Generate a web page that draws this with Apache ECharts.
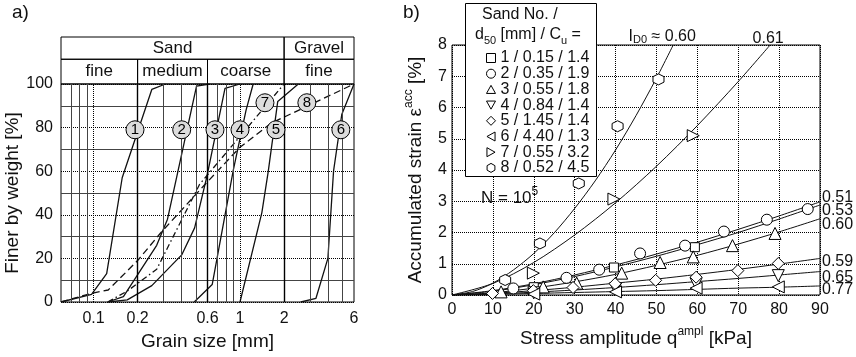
<!DOCTYPE html>
<html>
<head>
<meta charset="utf-8">
<script src="https://cdn.jsdelivr.net/npm/echarts@6/dist/echarts.min.js"></script>
<style>
  html, body { margin: 0; padding: 0; background: #fff; }
  #chart { width: 856px; height: 357px; }
</style>
</head>
<body>
<div id="chart"></div>
<script>
// ---------- a) grading curves: grain size [mm] vs. percent finer ----------
const grainTicks = [0.1, 0.2, 0.6, 1, 2, 6];
const grainGridThin = [0.07, 0.08, 0.09, 0.3, 0.4, 0.5, 0.7, 0.8, 0.9, 3, 4, 5];
const grainGridDotted = [0.1, 1];
const grainGridBold = [0.2, 0.6, 2];
const soilClassMain = [['Sand', 0.06, 2], ['Gravel', 2, 6]];
const soilClassSub = [['fine', 0.06, 0.2], ['medium', 0.2, 0.6], ['coarse', 0.6, 2], ['fine', 2, 6]];

const grading1 = [[0.06, 0], [0.097, 3.5], [0.123, 13], [0.157, 57], [0.25, 97.5], [0.31, 100]];
const grading2 = [[0.125, 0], [0.16, 2.5], [0.27, 26], [0.32, 38], [0.505, 99], [0.62, 100]];
const grading3 = [[0.126, 0], [0.17, 1], [0.25, 7.5], [0.40, 21.6], [0.49, 34], [0.594, 57.5], [0.79, 98], [1.0, 100]];
const grading4 = [[0.487, 0], [0.646, 8], [0.9, 60.5], [1.1, 88], [1.23, 100]];
const grading5 = [[1.0, 0], [1.41, 41], [1.56, 60], [1.81, 92], [2.5, 100]];
const grading6 = [[2.6, 0], [3.3, 1.7], [3.98, 20], [4.35, 60], [4.95, 86], [6, 100]];
const grading7 = [[0.125, 0], [0.17, 5], [0.27, 15], [0.53, 54], [2, 100]];
const grading8 = [[0.06, 0], [0.097, 4], [0.126, 5.5], [0.2, 19], [0.29, 32], [0.56, 53], [1.0, 71], [1.63, 82], [6, 100]];
const gradingCurves = [grading1, grading2, grading3, grading4, grading5, grading6, grading7, grading8];

// circled sand numbers sitting on the curves: [d, percent, tag]
const curveTags = [[0.192, 79, '1'], [0.40, 79, '2'], [0.675, 79, '3'], [1.0, 79, '4'],
                   [1.76, 79, '5'], [4.88, 79, '6'], [1.48, 91.4, '7'], [2.86, 91.4, '8']];

// ---------- b) accumulated strain after N = 10^5 cycles ----------
const sandLabels = ['1 / 0.15 / 1.4', '2 / 0.35 / 1.9', '3 / 0.55 / 1.8', '4 / 0.84 / 1.4',
                    '5 / 1.45 / 1.4', '6 / 4.40 / 1.3', '7 / 0.55 / 3.2', '8 / 0.52 / 4.5'];
const initialDensity = ['0.53', '0.51', '0.60', '0.65', '0.59', '0.77', '0.61', '0.60'];

const strain1 = [[20, 0.25], [39.6, 0.88], [59.4, 1.53]];
const strain2 = [[15, 0.21], [28, 0.55], [36, 0.81], [46, 1.33], [57, 1.58], [66.5, 2.03], [77, 2.41], [87, 2.75]];
const strain3 = [[12, 0.1], [22.3, 0.26], [30.5, 0.38], [41.5, 0.70], [50.9, 1.04], [59, 1.22], [68.6, 1.58], [79, 1.97]];
const strain4 = [[20, 0.07], [40, 0.2], [59.7, 0.36], [79.8, 0.62]];
const strain5 = [[9.9, 0.05], [19.9, 0.14], [29.6, 0.24], [39.9, 0.36], [49.8, 0.47], [59.7, 0.57], [69.9, 0.78], [79.8, 1.01]];
const strain6 = [[20, 0.03], [40, 0.1], [59.7, 0.22], [79.8, 0.26]];
const strain7 = [[19.9, 0.7], [39.6, 3.07], [59, 5.1]];
const strain8 = [[13, 0.48], [21.5, 1.65], [31, 3.57], [40.5, 5.4], [50.5, 6.9]];
const strainPoints = [strain1, strain2, strain3, strain4, strain5, strain6, strain7, strain8];

const trend1 = [[0, 0], [10, 0.12], [20, 0.33], [30, 0.59], [40, 0.90], [50, 1.24], [60, 1.61], [70, 2.0], [80, 2.43], [90, 2.88]];
const trend2 = [[0, 0], [10, 0.14], [20, 0.36], [30, 0.64], [40, 0.96], [50, 1.31], [60, 1.69], [70, 2.10], [80, 2.53], [90, 2.98]];
const trend3 = [[0, 0], [10, 0.07], [20, 0.22], [30, 0.42], [40, 0.66], [50, 0.95], [60, 1.27], [70, 1.63], [80, 2.02], [90, 2.44]];
const trend4 = [[0, 0], [10, 0.035], [20, 0.09], [30, 0.16], [40, 0.24], [50, 0.33], [60, 0.43], [70, 0.53], [80, 0.64], [90, 0.75]];
const trend5 = [[0, 0], [10, 0.054], [20, 0.14], [30, 0.25], [40, 0.38], [50, 0.51], [60, 0.66], [70, 0.82], [80, 0.99], [90, 1.17]];
const trend6 = [[0, 0], [10, 0.02], [20, 0.05], [30, 0.08], [40, 0.11], [50, 0.14], [60, 0.18], [70, 0.22], [80, 0.25], [90, 0.29]];
const trend7 = [[0, 0], [10, 0.37], [20, 1.04], [30, 1.92], [40, 2.95], [50, 4.12], [60, 5.42], [70, 6.83], [77.8, 8]];
const trend8 = [[0, 0], [5, 0.11], [10, 0.38], [15, 0.80], [20, 1.33], [25, 1.99], [30, 2.77], [35, 3.65], [40, 4.64], [45, 5.74], [50, 6.94], [54.1, 8]];
const trends = [trend1, trend2, trend3, trend4, trend5, trend6, trend7, trend8];

// ---------- styling ----------
const FONT = "'Liberation Sans', Arial, Helvetica, sans-serif";
const INK = '#111';
const markerShapes = [
  'rect',
  'circle',
  'path://M0,-1 L1,0.8 L-1,0.8 Z',
  'path://M-1,-0.8 L1,-0.8 L0,1 Z',
  'diamond',
  'path://M0.8,-1 L0.8,1 L-1,0 Z',
  'path://M-0.8,-1 L-0.8,1 L1,0 Z',
  'path://M0,-1 L0.87,-0.5 L0.87,0.5 L0,1 L-0.87,0.5 L-0.87,-0.5 Z'
];
const markerSizes = [9, 11, 12, 12, 12, 12, 12, 11];
// label placement for the density values at the end of each trend line
const trendLabelStyle = [
  { position: 'right', offset: [0, 6] },
  { position: 'right', offset: [0, -4] },
  { position: 'right', offset: [0, 6] },
  { position: 'right', offset: [0, 6] },
  { position: 'right', offset: [0, 3] },
  { position: 'right', offset: [0, 4] },
  { position: 'top', offset: [-2, 4] },
  { position: 'top', offset: [-11, 2] }
];

const subRich = {
  sub: { fontSize: 11, fontFamily: FONT, verticalAlign: 'bottom', lineHeight: 11, color: INK },
  sup: { fontSize: 12, fontFamily: FONT, verticalAlign: 'top', lineHeight: 12, color: INK }
};

const chart = echarts.init(document.getElementById('chart'), null, { renderer: 'canvas' });

const series = [];

// vertical grid of the sieve chart
const gridMarks = []
  .concat(grainGridThin.map(v => ({ xAxis: v, lineStyle: { type: 'solid', color: '#444', width: 1 } })))
  .concat(grainGridDotted.map(v => ({ xAxis: v, lineStyle: { type: 'dotted', color: '#000', width: 1 } })))
  .concat(grainGridBold.map(v => ({ xAxis: v, lineStyle: { type: 'solid', color: '#000', width: 1.4 } })));
series.push({
  type: 'line', xAxisIndex: 0, yAxisIndex: 0, data: [], silent: true, z: 1,
  markLine: { silent: true, symbol: ['none', 'none'], label: { show: false }, animation: false, data: gridMarks }
});

// soil classification header
const headerCells = soilClassSub.map(c => [{ name: c[0], xAxis: c[1], yAxis: 0 }, { xAxis: c[2], yAxis: 1 }])
  .concat(soilClassMain.map(c => [{ name: c[0], xAxis: c[1], yAxis: 1 }, { xAxis: c[2], yAxis: 1.9 }]));
series.push({
  type: 'line', xAxisIndex: 1, yAxisIndex: 1, data: [], silent: true,
  markArea: {
    silent: true,
    itemStyle: { color: 'rgba(0,0,0,0)', borderColor: '#000', borderWidth: 1 },
    label: { show: true, position: 'inside', color: INK, fontSize: 17, fontFamily: FONT },
    data: headerCells
  }
});

// grading curves
gradingCurves.forEach((curve, i) => {
  let type = 'solid';
  if (i === 6) type = [6, 3, 1.5, 3];
  if (i === 7) type = [7, 4];
  series.push({
    type: 'line', xAxisIndex: 0, yAxisIndex: 0, data: curve, showSymbol: false, silent: true, z: 3,
    lineStyle: { color: INK, width: 1.3, type: type }
  });
});

// circled numbers
series.push({
  type: 'scatter', xAxisIndex: 0, yAxisIndex: 0, data: curveTags, symbol: 'circle', symbolSize: 18, z: 6, silent: true,
  itemStyle: { color: '#dcdcdc', borderColor: '#000', borderWidth: 1, opacity: 1 },
  label: { show: true, position: 'inside', formatter: p => p.value[2], color: '#000', fontSize: 15, fontFamily: FONT }
});

// trend lines of panel b
trends.forEach((tr, i) => {
  const ls = trendLabelStyle[i];
  const text = i === 7 ? 'I{sub|D0} ≈ ' + initialDensity[i] : initialDensity[i];
  series.push({
    type: 'line', xAxisIndex: 2, yAxisIndex: 2, data: tr, smooth: 0.3, showSymbol: false, silent: true, z: 3,
    lineStyle: { color: INK, width: 1 },
    markPoint: {
      silent: true, symbol: 'circle', symbolSize: 0, animation: false,
      data: [{ coord: tr[tr.length - 1] }],
      label: {
        show: true, position: ls.position, offset: ls.offset, distance: 2,
        formatter: text, color: INK, fontSize: 16, fontFamily: FONT, rich: subRich
      }
    }
  });
});

// measured points of panel b
strainPoints.forEach((pts, i) => {
  series.push({
    name: sandLabels[i], type: 'scatter', xAxisIndex: 2, yAxisIndex: 2, data: pts, z: 5,
    symbol: markerShapes[i], symbolSize: markerSizes[i],
    itemStyle: { color: '#fff', borderColor: '#000', borderWidth: 1, opacity: 1 }
  });
});

const option = {
  animation: false,
  textStyle: { fontFamily: FONT, color: INK },
  grid: [
    { left: 61, top: 84, width: 293, height: 218, show: true, borderColor: '#000', borderWidth: 1, backgroundColor: 'rgba(0,0,0,0)' },
    { left: 61, top: 37, width: 293, height: 47, show: false },
    { left: 452, top: 45, width: 368, height: 256, show: true, borderColor: '#000', borderWidth: 1, backgroundColor: 'rgba(0,0,0,0)' }
  ],
  xAxis: [
    {
      gridIndex: 0, type: 'log', logBase: 10, min: 0.06, max: 6,
      axisLine: { show: false }, axisTick: { show: false }, splitLine: { show: false },
      axisLabel: { customValues: grainTicks, formatter: v => String(+Number(v).toPrecision(3)), fontSize: 16, color: INK, margin: 9, fontFamily: FONT },
      name: 'Grain size [mm]', nameLocation: 'middle', nameGap: 27,
      nameTextStyle: { fontSize: 19, color: INK, fontFamily: FONT }
    },
    { gridIndex: 1, type: 'log', logBase: 10, min: 0.06, max: 6, show: false },
    {
      gridIndex: 2, type: 'value', min: 0, max: 90, interval: 10,
      axisLine: { show: false }, axisTick: { show: false },
      splitLine: { show: true, lineStyle: { type: 'dotted', color: '#000', width: 1 } },
      axisLabel: { fontSize: 16, color: INK, margin: 7, fontFamily: FONT },
      name: 'Stress amplitude q{sup|ampl} [kPa]', nameLocation: 'middle', nameGap: 31,
      nameTextStyle: { fontSize: 19, color: INK, fontFamily: FONT, lineHeight: 26, rich: subRich }
    }
  ],
  yAxis: [
    {
      gridIndex: 0, type: 'value', min: 0, max: 100, interval: 20,
      axisLine: { show: false }, axisTick: { show: false },
      splitLine: { show: true, lineStyle: { type: 'dotted', color: '#000', width: 1 } },
      minorTick: { show: false, splitNumber: 2 },
      minorSplitLine: { show: true, lineStyle: { type: 'solid', color: '#444', width: 1 } },
      axisLabel: { fontSize: 16, color: INK, margin: 8, fontFamily: FONT },
      name: 'Finer by weight [%]', nameLocation: 'middle', nameGap: 35, nameRotate: 90,
      nameTextStyle: { fontSize: 19, color: INK, fontFamily: FONT }
    },
    { gridIndex: 1, type: 'value', min: 0, max: 1.9, show: false },
    {
      gridIndex: 2, type: 'value', min: 0, max: 8, interval: 1,
      axisLine: { show: false }, axisTick: { show: false },
      splitLine: { show: true, lineStyle: { type: 'dotted', color: '#000', width: 1 } },
      axisLabel: { fontSize: 16, color: INK, margin: 5, fontFamily: FONT },
      name: 'Accumulated strain ε{sup|acc} [%]', nameLocation: 'middle', nameGap: 23, nameRotate: 90,
      nameTextStyle: { fontSize: 19, color: INK, fontFamily: FONT, lineHeight: 26, rich: subRich }
    }
  ],
  legend: {
    data: sandLabels, orient: 'vertical', left: 481, top: 45, z: 20,
    itemWidth: 9, itemHeight: 9, itemGap: -0.3, selectedMode: false,
    itemStyle: { color: '#fff', borderColor: '#000', borderWidth: 1 },
    textStyle: { fontSize: 16, lineHeight: 15, color: INK, fontFamily: FONT }
  },
  graphic: [
    { type: 'text', left: 12, top: 3, style: { text: 'a)', font: '19px ' + FONT, fill: INK } },
    { type: 'text', left: 403, top: 3, style: { text: 'b)', font: '19px ' + FONT, fill: INK } },
    { type: 'rect', z: 10, shape: { x: 465.5, y: 3.5, width: 131, height: 173 }, style: { fill: '#fff', stroke: '#000', lineWidth: 1 } },
    { type: 'text', z: 11, left: 482, top: 7, style: { text: 'Sand No. /', font: '16px ' + FONT, fill: INK } },
    { type: 'text', z: 11, left: 475, top: 24, style: { text: 'd{sub|50} [mm] / C{sub|u} =', font: '16px ' + FONT, fill: INK, lineHeight: 22, rich: subRich } },
    { type: 'text', z: 11, left: 481, top: 186, style: { text: 'N = 10{sup|5}', font: '17px ' + FONT, fill: INK, lineHeight: 24, rich: subRich } }
  ],
  series: series
};

chart.setOption(option);
</script>
</body>
</html>
